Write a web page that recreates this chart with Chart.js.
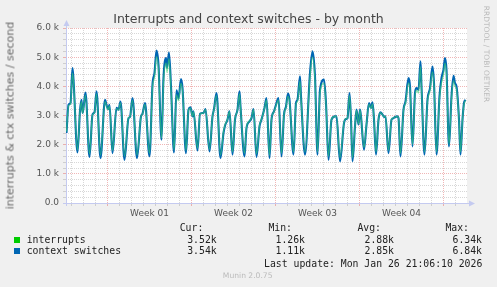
<!DOCTYPE html>
<html><head><meta charset="utf-8">
<script src="https://cdn.jsdelivr.net/npm/chart.js@4.4.1/dist/chart.umd.min.js"></script>
<style>
html,body{margin:0;padding:0;background:#f0f0f0;}
#wrap{position:relative;width:497px;height:287px;overflow:hidden;background:#f0f0f0;}
canvas{position:absolute;left:0;top:0;}
.t{position:absolute;white-space:pre;}
.mono{font-family:'DejaVu Sans Mono',monospace;font-size:9.8px;color:#222;line-height:12px;height:12px;}
.sq{position:absolute;width:6px;height:6px;}
</style></head><body>
<div id="wrap">
<canvas id="c" width="497" height="287"></canvas>
</div>
<script>
// ---- data (hours relative to start of Week 01; values in thousands per second) ----
const hours = [-82,-78,-74,-70,-68,-60,-55,-52,-50,-48,-44,-36,-30,-26,-22,-14,-5,-2,1,4,10,18,22,26,34,42,45,50,59,67,70,75,84,90,94,98,102,108,112,117,119,123,127,133,138,142,147,150,157,162,166,170,172,180,185,192,196,204,210,213,218,226,232,235,240,244,250,255,260,264,266,274,278,284,288,292,298,304,308,314,318,324,328,333,337,342,348,353,357,361,364,372,377,380,385,387,395,405,410,415,420,425,433,437,442,448,455,458,465,473,477,480,484,487,490,495,498,502,505,507,513,518,523,527,530,533,537,542,546,550,554,556,562,568,572,575,580,582,586,592,596,602,605,610,615,618,622,626,628,634,640,645,650,653,658,664,668,672,675,678,683,688,692,695,698,703,706,710,713,716];
const ctxSwitches = [2.40,3.37,3.43,4.63,4.23,1.73,3.17,3.54,3.09,3.26,3.79,1.58,3.03,3.11,3.83,1.54,3.54,3.37,3.22,3.37,1.71,3.26,3.20,3.48,1.48,2.91,2.95,3.60,1.54,2.97,3.06,3.43,1.60,4.06,4.46,5.23,4.74,2.17,4.29,4.97,4.63,5.16,4.00,1.73,3.86,3.57,4.25,3.94,1.71,3.20,3.28,2.97,3.14,1.80,3.06,3.09,3.22,1.77,2.97,3.22,3.77,1.54,2.40,2.65,2.86,3.14,1.66,2.86,3.20,3.83,3.31,1.60,2.57,2.80,2.91,3.22,1.58,2.63,2.86,3.26,3.60,1.54,2.86,3.14,3.37,3.60,1.60,3.03,3.31,3.75,3.54,1.66,3.43,3.54,4.34,3.66,1.66,4.46,5.20,4.34,1.66,3.88,4.23,3.43,1.48,2.86,2.97,2.97,1.43,2.74,2.88,2.91,3.77,2.86,1.43,2.63,3.20,2.69,3.20,2.97,1.83,2.69,3.43,3.26,3.45,2.86,1.66,2.86,3.11,3.03,2.95,2.97,1.71,2.86,2.91,2.95,2.97,2.91,1.60,3.20,3.48,4.28,4.00,1.94,3.77,3.94,3.88,4.86,4.00,1.66,3.54,3.94,4.68,4.11,1.66,3.66,4.28,4.57,4.97,4.57,1.94,3.66,4.36,4.11,4.00,2.86,1.66,2.86,3.43,3.54];
const interrupts = [2.45,3.33,3.40,4.45,4.15,1.82,3.15,3.48,3.08,3.24,3.70,1.68,3.02,3.10,3.74,1.64,3.48,3.33,3.20,3.33,1.80,3.24,3.18,3.43,1.60,2.92,2.95,3.53,1.65,2.97,3.05,3.38,1.70,3.96,4.32,5.02,4.58,2.22,4.12,4.80,4.48,4.95,3.90,1.82,3.72,3.50,4.10,3.86,1.80,3.18,3.25,2.97,3.13,1.88,3.05,3.08,3.20,1.85,2.97,3.20,3.68,1.64,2.45,2.68,2.87,3.13,1.75,2.87,3.18,3.74,3.28,1.70,2.60,2.82,2.92,3.20,1.68,2.66,2.87,3.24,3.53,1.64,2.87,3.13,3.33,3.53,1.70,3.02,3.28,3.66,3.48,1.75,3.38,3.48,4.18,3.58,1.75,4.32,5.00,4.18,1.75,3.77,4.10,3.38,1.60,2.87,2.97,2.97,1.55,2.76,2.89,2.92,3.68,2.87,1.55,2.66,3.18,2.71,3.18,2.97,1.90,2.71,3.38,3.24,3.40,2.87,1.75,2.87,3.10,3.02,2.95,2.97,1.80,2.87,2.92,2.95,2.97,2.92,1.70,3.18,3.43,4.12,3.90,2.00,3.68,3.86,3.77,4.68,3.90,1.75,3.48,3.86,4.50,4.00,1.75,3.58,4.12,4.40,4.80,4.40,2.00,3.58,4.20,4.00,3.90,2.87,1.75,2.87,3.38,3.52];
const weekLabelHours = [84, 252, 420, 588];
const weekLabels = ['Week 01', 'Week 02', 'Week 03', 'Week 04'];
const yTickLabels = ['0.0', '1.0 k', '2.0 k', '3.0 k', '4.0 k', '5.0 k', '6.0 k'];
const seriesNames = ['interrupts', 'context switches'];
const seriesColors = ['#00cc00', '#0066b3'];
const statHeaders = ['Cur:', 'Min:', 'Avg:', 'Max:'];
const statValues = [['3.52k', '1.26k', '2.88k', '6.34k'], ['3.54k', '1.11k', '2.85k', '6.84k']];
const titleText = 'Interrupts and context switches - by month';
const yTitleText = 'interrupts & ctx switches / second';
const sideText = 'RRDTOOL / TOBI OETIKER';
const lastUpdate = 'Last update: Mon Jan 26 21:06:10 2026';
const footerText = 'Munin 2.0.75';

// ---- styling ----
const MAJOR = 'rgba(225,110,110,0.5)';
const MINOR = 'rgba(150,150,150,0.38)';
const AXIS = '#c4caf0';

const xGridTicks = [];
for (let h = -72; h <= 696; h += 24) xGridTicks.push(h);
const xTicks = xGridTicks.concat(weekLabelHours).sort((a, b) => a - b);
const yTicks = [];
for (let i = 0; i <= 30; i++) yTicks.push(i / 5);
const isInt = v => Math.abs(v - Math.round(v)) < 1e-6;

const decor = {
  id: 'decor',
  beforeDraw(chart) {
    const {ctx, chartArea: a} = chart;
    ctx.save();
    ctx.fillStyle = '#ffffff';
    ctx.fillRect(a.left, a.top, a.right - a.left, a.bottom - a.top);
    ctx.restore();
  },
  beforeDatasetsDraw(chart) {
    const {ctx, chartArea: a} = chart;
    ctx.save();
    ctx.strokeStyle = AXIS; ctx.fillStyle = AXIS; ctx.lineWidth = 1;
    const by = Math.round(a.bottom) + 0.5, lx = Math.round(a.left) + 0.5;
    ctx.beginPath(); ctx.moveTo(a.left - 3, by); ctx.lineTo(a.right + 3, by); ctx.stroke();
    ctx.beginPath(); ctx.moveTo(a.right + 8, by); ctx.lineTo(a.right + 2, by - 3); ctx.lineTo(a.right + 2, by + 3); ctx.closePath(); ctx.fill();
    ctx.beginPath(); ctx.moveTo(lx, a.bottom + 3); ctx.lineTo(lx, a.top - 3); ctx.stroke();
    ctx.beginPath(); ctx.moveTo(lx, a.top - 8); ctx.lineTo(lx - 3, a.top - 2); ctx.lineTo(lx + 3, a.top - 2); ctx.closePath(); ctx.fill();
    ctx.restore();
  }
};

new Chart(document.getElementById('c'), {
  type: 'line',
  data: {
    datasets: [
      { label: seriesNames[0], data: hours.map((h, i) => ({x: h, y: interrupts[i]})),
        borderColor: 'rgba(60,215,110,0.6)', borderWidth: 1.2, pointRadius: 0, cubicInterpolationMode: 'monotone', fill: false },
      { label: seriesNames[1], data: hours.map((h, i) => ({x: h, y: ctxSwitches[i]})),
        borderColor: seriesColors[1], borderWidth: 2.1, pointRadius: 0, cubicInterpolationMode: 'monotone', fill: false }
    ]
  },
  options: {
    responsive: false, animation: false, devicePixelRatio: 1,
    layout: { padding: { left: 0, right: 30, top: 28, bottom: 0 } },
    plugins: { legend: { display: false }, tooltip: { enabled: false }, title: { display: false } },
    scales: {
      x: {
        type: 'linear', min: -83, max: 719,
        afterBuildTicks: s => { s.ticks = xTicks.map(v => ({value: v})); },
        afterFit: s => { s.height = 84; },
        grid: {
          color: c => { const v = c.tick ? c.tick.value : 0; if (v % 24 !== 0) return 'rgba(0,0,0,0)'; return v % 168 === 0 ? MAJOR : MINOR; },
          lineWidth: 1, drawTicks: true, tickLength: 3
        },
        border: { display: false, dash: [1, 1] },
        ticks: {
          autoSkip: false, maxRotation: 0, minRotation: 0, padding: 2,
          color: '#555', font: { family: 'DejaVu Sans', size: 9 },
          callback: v => { const i = weekLabelHours.indexOf(v); return i >= 0 ? weekLabels[i] : ''; }
        }
      },
      y: {
        type: 'linear', min: 0, max: 6,
        afterBuildTicks: s => { s.ticks = yTicks.map(v => ({value: v})); },
        afterFit: s => { s.width = 66; },
        grid: {
          color: c => { const v = c.tick ? c.tick.value : 0; return isInt(v) ? MAJOR : MINOR; },
          lineWidth: 1, drawTicks: true, tickLength: 3
        },
        border: { display: false, dash: [1, 1] },
        ticks: {
          autoSkip: false, padding: 4, color: '#555', font: { family: 'DejaVu Sans', size: 9 },
          callback: v => isInt(v) ? yTickLabels[Math.round(v)] : ''
        }
      }
    }
  },
  plugins: [decor]
});

// ---- text elements ----
const wrap = document.getElementById('wrap');
function addText(txt, style, cls) {
  const d = document.createElement('div');
  d.className = 't' + (cls ? ' ' + cls : '');
  d.textContent = txt;
  Object.assign(d.style, style);
  wrap.appendChild(d);
  return d;
}
addText(titleText, {left: '0px', width: '497px', top: '11px', textAlign: 'center', font: "12.5px 'DejaVu Sans'", color: '#444', lineHeight: '15px'});
addText(yTitleText, {left: '-100px', width: '220px', top: '109px', textAlign: 'center', font: "11px 'DejaVu Sans'", color: '#666', lineHeight: '13px', transform: 'rotate(-90deg)'});
addText(sideText, {left: '426px', width: '120px', top: '48.5px', textAlign: 'center', font: "7.5px 'DejaVu Sans'", color: '#bbb', lineHeight: '10px', transform: 'rotate(90deg)'});

const colRights = [216.7, 305, 394, 482];
const headerRights = [203.3, 292, 381, 469];
statHeaders.forEach((h, i) => addText(h, {right: (497 - headerRights[i]) + 'px', top: '222.3px'}, 'mono'));
const rowTops = [233.7, 245];
seriesNames.forEach((n, r) => {
  const sq = document.createElement('div');
  sq.className = 'sq';
  Object.assign(sq.style, {left: '14px', top: (rowTops[r] + 3.3) + 'px', background: seriesColors[r]});
  wrap.appendChild(sq);
  addText(n, {left: '26.7px', top: rowTops[r] + 'px'}, 'mono');
  statValues[r].forEach((v, i) => addText(v, {right: (497 - colRights[i]) + 'px', top: rowTops[r] + 'px'}, 'mono'));
});
addText(lastUpdate, {right: (497 - 482.3) + 'px', top: '257.7px'}, 'mono');
addText(footerText, {left: '197.7px', width: '100px', top: '271px', textAlign: 'center', font: "7.6px 'DejaVu Sans'", color: '#bbb', lineHeight: '10px'});
</script>
</body></html>
